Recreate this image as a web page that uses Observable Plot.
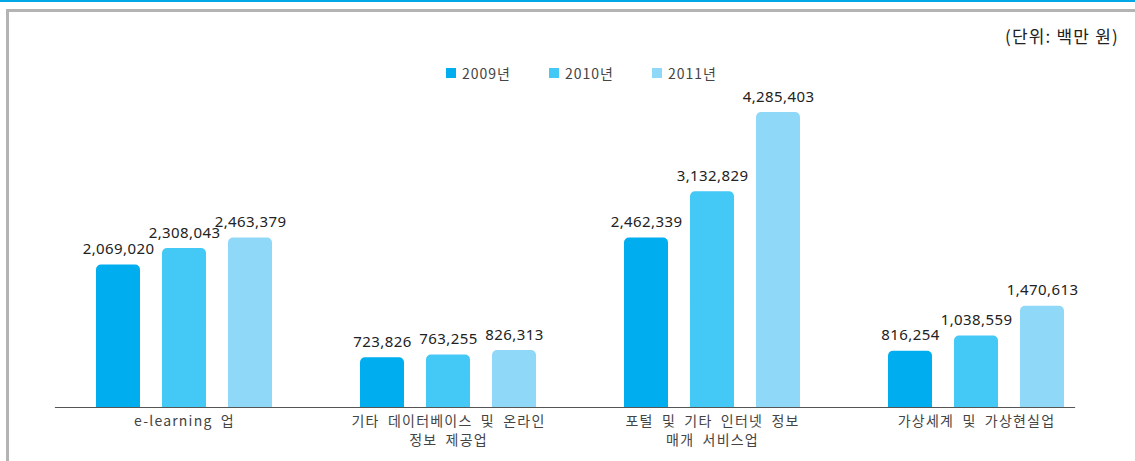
<!DOCTYPE html>
<html>
<head>
<meta charset="utf-8">
<script src="https://cdn.jsdelivr.net/npm/d3@7"></script>
<script src="https://cdn.jsdelivr.net/npm/@observablehq/plot@0.6"></script>
<style>
  html, body { margin: 0; padding: 0; background: #fff; }
  #wrap { position: relative; width: 1135px; height: 461px; overflow: hidden; font-family: "Noto Sans CJK KR", "Noto Sans", sans-serif; }
  #topline { position: absolute; left: 0; top: 0; width: 1135px; height: 2px; background: #00A8E8; }
  #box { position: absolute; left: 6px; top: 9px; width: 1135px; height: 460px; border-top: 3px solid #b4b4b4; border-left: 3px solid #b4b4b4; box-sizing: border-box; }
  #unit { position: absolute; right: 16px; top: 23px; font-size: 17px; color: #222; letter-spacing: 1.2px; }
  #legend { position: absolute; left: 446px; top: 63px; display: flex; font-size: 14px; color: #444; letter-spacing: 1px; }
  #legend .item { display: flex; align-items: center; width: 103px; }
  #legend .sw { width: 10px; height: 10px; margin-right: 6px; }
  #chart { position: absolute; left: 0; top: 0; }
  #chart g[font-size="15"] { letter-spacing: 0.4px; }
  #chart g[font-size="14"] { letter-spacing: 1.2px; word-spacing: 4px; }
</style>
</head>
<body>
<div id="wrap">
  <div id="topline"></div>
  <div id="box"></div>
  <div id="unit">(단위: 백만 원)</div>
  <div id="legend"></div>
  <div id="chart"></div>
</div>
<script>
const categories = ["e-learning 업", "기타 데이터베이스 및 온라인\n정보 제공업", "포털 및 기타 인터넷 정보\n매개 서비스업", "가상세계 및 가상현실업"];
const years = ["2009년", "2010년", "2011년"];
const v2009 = [2069020, 723826, 2462339, 816254];
const v2010 = [2308043, 763255, 3132829, 1038559];
const v2011 = [2463379, 826313, 4285403, 1470613];
const colors = ["#00AEEF", "#44C8F5", "#8FD8F8"];

const series = [v2009, v2010, v2011];
const data = [];
categories.forEach((c, i) => years.forEach((y, j) => data.push({category: c, year: y, value: series[j][i]})));

const fmt = d3.format(",");

// legend
const legend = document.getElementById("legend");
years.forEach((y, j) => {
  const it = document.createElement("div");
  it.className = "item";
  it.innerHTML = `<span class="sw" style="background:${colors[j]}"></span><span>${y}</span>`;
  legend.appendChild(it);
});

let baseline;
try {
  baseline = Plot.frame({anchor: "bottom", facet: "super", stroke: "#555", strokeWidth: 1.2, insetLeft: 3, insetRight: 34});
} catch (e) {
  baseline = Plot.ruleY([0], {stroke: "#555", strokeWidth: 1.2});
}

const chart = Plot.plot({
  width: 1135,
  height: 461,
  marginLeft: 52,
  marginRight: 27,
  marginTop: 111,
  marginBottom: 54,
  style: {background: "transparent", fontFamily: "'Noto Sans', 'Noto Sans CJK KR', sans-serif"},
  x: {domain: years, paddingInner: 0.338, paddingOuter: 0.654, round: true, axis: null},
  fx: {domain: categories, padding: 0, round: true, axis: null},
  y: {domain: [0, 4300000], axis: null},
  color: {domain: years, range: colors},
  marks: [
    Plot.barY(data, {fx: "category", x: "year", y: "value", fill: "year", rx: 5}),
    Plot.barY(data, {fx: "category", x: "year", y1: 0, y2: d => d.value / 2, fill: "year"}),
    baseline,
    Plot.text(data, {fx: "category", x: "year", y: "value", text: d => fmt(d.value), lineAnchor: "bottom", dy: -11, fontSize: 15, fill: "#222"}),
    Plot.text(categories, {fx: d => d, text: d => d, frameAnchor: "bottom", lineAnchor: "top", dy: 6, fontSize: 14, fill: "#444", lineHeight: 1.3, fontFamily: "'Noto Sans CJK KR', sans-serif"})
  ]
});
document.getElementById("chart").appendChild(chart);
</script>
</body>
</html>
